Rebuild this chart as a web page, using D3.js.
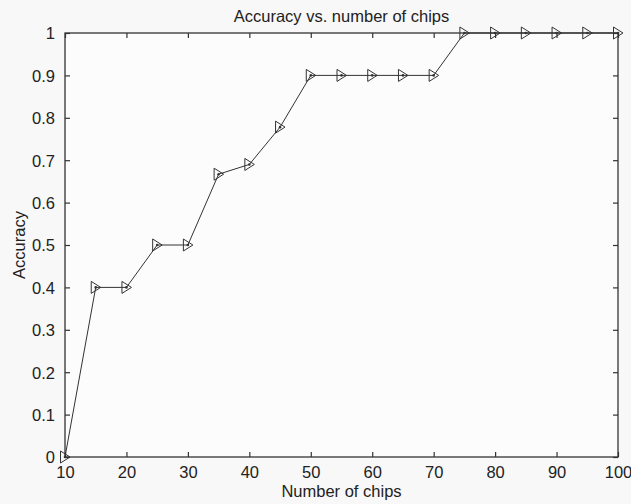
<!DOCTYPE html>
<html><head><meta charset="utf-8">
<script src="https://cdn.jsdelivr.net/npm/d3@7"></script>
<style>
html,body{margin:0;padding:0;background:#f8f8f8;}
svg{display:block;}
text{font-family:"Liberation Sans",Arial,sans-serif;fill:#222;}
</style></head>
<body>
<script>
const chips = [10,15,20,25,30,35,40,45,50,55,60,65,70,75,80,85,90,95,100];
const accuracy = [0,0.4,0.4,0.5,0.5,0.667,0.69,0.778,0.9,0.9,0.9,0.9,0.9,1,1,1,1,1,1];
const xTicks = [10,20,30,40,50,60,70,80,90,100];
const yTicks = [0,0.1,0.2,0.3,0.4,0.5,0.6,0.7,0.8,0.9,1];
const title = "Accuracy vs. number of chips";
const xLabel = "Number of chips";
const yLabel = "Accuracy";

const W=631,H=504;
const m={left:65,right:13,top:33,bottom:47};
const svg=d3.select("body").append("svg").attr("width",W).attr("height",H);
svg.append("rect").attr("width",W).attr("height",H).attr("fill","#f8f8f8");
const x=d3.scaleLinear().domain([10,100]).range([m.left,W-m.right]);
const y=d3.scaleLinear().domain([0,1]).range([H-m.bottom,m.top]);
const fs=16.5;
const stroke="#333";

// box
svg.append("rect").attr("x",x(10)).attr("y",y(1)).attr("width",x(100)-x(10)).attr("height",y(0)-y(1))
  .attr("fill","#fcfcfc").attr("stroke",stroke).attr("stroke-width",1.3);

const fmt=d=>d===0?"0":d3.format("")(d);
// bottom axis
const xb=svg.append("g").attr("transform",`translate(0,${y(0)})`)
  .call(d3.axisBottom(x).tickValues(xTicks).tickSize(-5).tickPadding(9).tickFormat(d3.format("d")));
// top axis
const xt=svg.append("g").attr("transform",`translate(0,${y(1)})`)
  .call(d3.axisTop(x).tickValues(xTicks).tickSize(-5).tickFormat(""));
// left axis
const yl=svg.append("g").attr("transform",`translate(${x(10)},0)`)
  .call(d3.axisLeft(y).tickValues(yTicks).tickSize(-5).tickPadding(10).tickFormat(d=>d===0||d===1?String(d):d3.format(".1f")(d)));
// right axis
const yr=svg.append("g").attr("transform",`translate(${x(100)},0)`)
  .call(d3.axisRight(y).tickValues(yTicks).tickSize(-5).tickFormat(""));
[xb,xt,yl,yr].forEach(g=>{
  g.select(".domain").remove();
  g.selectAll("line").attr("stroke",stroke).attr("stroke-width",1.2);
  g.selectAll("text").attr("font-size",fs).attr("font-family","'Liberation Sans',Arial,sans-serif").attr("fill","#222");
});
yl.selectAll("text").attr("dy","0.36em");
xb.selectAll("text").attr("dy","0.72em");

// line
const line=d3.line().x((d,i)=>x(chips[i])).y(d=>y(d));
svg.append("path").datum(accuracy).attr("d",line).attr("fill","none").attr("stroke","#333").attr("stroke-width",1);
// markers
svg.selectAll("path.mk").data(accuracy).enter().append("path").attr("class","mk")
  .attr("transform",(d,i)=>`translate(${x(chips[i])},${y(d)})`)
  .attr("d","M-4.5,-6L-4.5,6L5,0Z").attr("fill","none").attr("stroke","#333").attr("stroke-width",1);
svg.selectAll("circle.dt").data(accuracy).enter().append("circle").attr("class","dt")
  .attr("cx",(d,i)=>x(chips[i])).attr("cy",d=>y(d)).attr("r",1.3).attr("fill","#333");

// titles
svg.append("text").attr("x",(x(10)+x(100))/2).attr("y",22).attr("text-anchor","middle").attr("font-size",fs).text(title);
svg.append("text").attr("x",(x(10)+x(100))/2).attr("y",497).attr("text-anchor","middle").attr("font-size",fs).text(xLabel);
svg.append("text").attr("transform",`translate(25,${(y(0)+y(1))/2}) rotate(-90)`).attr("text-anchor","middle").attr("font-size",fs).text(yLabel);
</script>
</body></html>
